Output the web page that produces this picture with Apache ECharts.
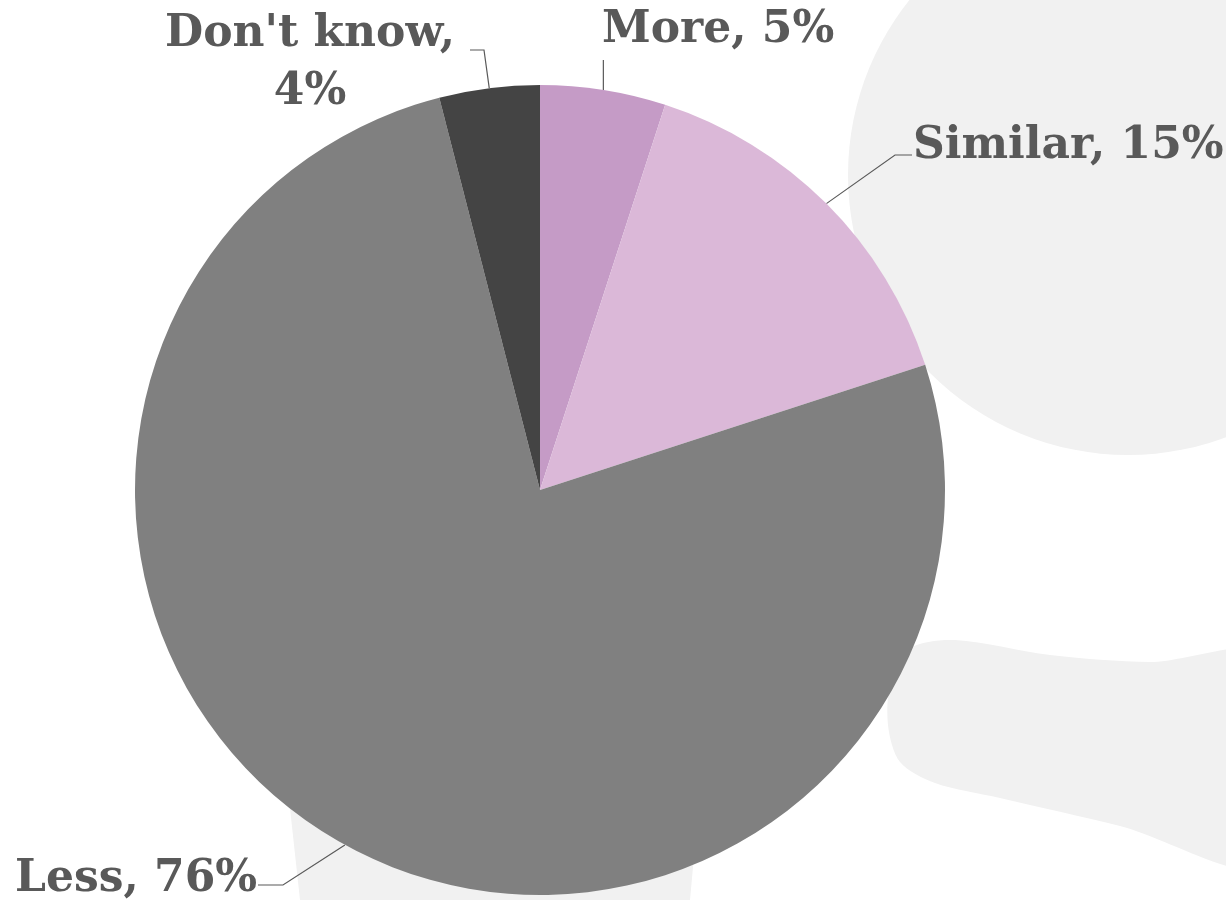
<!DOCTYPE html>
<html>
<head>
<meta charset="utf-8">
<script src="https://cdn.jsdelivr.net/npm/echarts@6/dist/echarts.min.js"></script>
<style>
html,body{margin:0;padding:0;background:#fff;}
#chart{width:1226px;height:900px;}
</style>
</head>
<body>
<div id="chart"></div>
<script>
var categories = ['More', 'Similar', 'Less', "Don't know"];
var values = [5, 15, 76, 4];
var colors = ['#C59BC6', '#DBB8D8', '#808080', '#444444'];
var labelTexts = ['More, 5%', 'Similar, 15%', 'Less, 76%', "Don't know,\n4%"];

var chart = echarts.init(document.getElementById('chart'));

// label placement (anchor, alignment) and leader-line bends
var labelPos = [
  {x: 602, y: 31, align: 'left', bend: null, end: [null, 60]},
  {x: 913, y: 147, align: 'left', bend: [895, 155], end: [912, 155]},
  {x: 15, y: 880, align: 'left', bend: [283, 885], end: [258, 885]},
  {x: 310, y: 64, align: 'center', bend: [484, 50], end: [470, 50]}
];

var option = {
  backgroundColor: '#ffffff',
  animation: false,
  graphic: [
    {type: 'circle', z: -10, shape: {cx: 1128, cy: 175, r: 280}, style: {fill: '#f1f1f1'}},
    {type: 'polygon', z: -10, shape: {points: [[955,640],[1050,655],[1150,662],[1270,656],[1270,866],[1120,826],[1000,798],[935,783],[900,762],[888,725],[891,680],[910,648]], smooth: 0.3}, style: {fill: '#f1f1f1'}},
    {type: 'polygon', z: -10, shape: {points: [[288,790],[700,790],[690,900],[300,900]]}, style: {fill: '#f1f1f1'}}
  ],
  series: [{
    type: 'pie',
    center: [540, 490],
    radius: 405,
    startAngle: 90,
    clockwise: true,
    data: categories.map(function (c, i) {
      return {name: c, value: values[i], itemStyle: {color: colors[i]}};
    }),
    label: {
      show: true,
      position: 'outside',
      formatter: function (p) { return labelTexts[p.dataIndex]; },
      fontFamily: 'DejaVu Serif',
      fontWeight: 'bold',
      fontSize: 44,
      lineHeight: 58,
      color: '#595959'
    },
    labelLine: {
      show: true,
      length: 20,
      length2: 10,
      lineStyle: {color: '#595959', width: 1.2}
    },
    labelLayout: function (params) {
      var p = labelPos[params.dataIndex];
      var out = {x: p.x, y: p.y, align: p.align, verticalAlign: 'middle'};
      var pts = params.labelLinePoints;
      if (pts && pts.length) {
        var s = pts[0];
        var b = p.bend || [s[0], p.end[1]];
        var e = [p.end[0] == null ? s[0] : p.end[0], p.end[1]];
        out.labelLinePoints = [[s[0], s[1]], b, e];
      }
      return out;
    }
  }]
};
chart.setOption(option);
</script>
</body>
</html>
